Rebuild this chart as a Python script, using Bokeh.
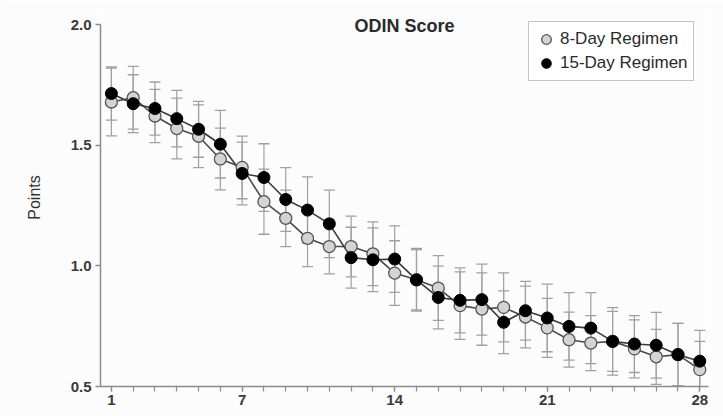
from bokeh.plotting import figure
from bokeh.models import (ColumnDataSource, Range1d, FixedTicker, PrintfTickFormatter,
                          Legend, LegendItem, Label)
from bokeh.embed import file_html
from bokeh.resources import INLINE

# ---- data ----
days = list(range(1, 29))
x_tick_labels = [1, 7, 14, 21, 28]
y_ticks = [0.5, 1.0, 1.5, 2.0]

mean_8day = [1.679, 1.697, 1.621, 1.569, 1.537, 1.443, 1.408, 1.266, 1.197, 1.114,
             1.080, 1.080, 1.050, 0.970, 0.942, 0.908, 0.835, 0.821, 0.828, 0.788,
             0.743, 0.694, 0.680, 0.687, 0.656, 0.623, 0.632, 0.570]
err_8day = [0.140, 0.130, 0.110, 0.126, 0.130, 0.128, 0.130, 0.135, 0.117, 0.117,
            0.113, 0.126, 0.132, 0.134, 0.130, 0.134, 0.140, 0.150, 0.143, 0.128,
            0.122, 0.114, 0.114, 0.140, 0.120, 0.114, 0.130, 0.117]

mean_15day = [1.714, 1.672, 1.652, 1.610, 1.566, 1.504, 1.383, 1.366, 1.275, 1.231,
              1.174, 1.034, 1.025, 1.028, 0.942, 0.869, 0.857, 0.860, 0.766, 0.814,
              0.784, 0.749, 0.742, 0.687, 0.676, 0.671, 0.632, 0.605]
err_15day = [0.110, 0.120, 0.110, 0.117, 0.116, 0.140, 0.130, 0.140, 0.132, 0.138,
             0.140, 0.126, 0.132, 0.138, 0.125, 0.130, 0.135, 0.147, 0.130, 0.122,
             0.140, 0.140, 0.147, 0.124, 0.118, 0.136, 0.130, 0.128]

FONT = "Liberation Sans"


def make_source(mean, err):
    return ColumnDataSource(dict(
        x=days, y=mean,
        lo=[m - e for m, e in zip(mean, err)],
        hi=[m + e for m, e in zip(mean, err)],
    ))


src8 = make_source(mean_8day, err_8day)
src15 = make_source(mean_15day, err_15day)

# frame: bottom at 386 px, 2.0 at 24 px; extra headroom so the title is not clipped
p = figure(width=723, height=416, output_backend="svg", toolbar_location=None,
           x_range=Range1d(0.5, 28.4), y_range=Range1d(0.5, 2.0665),
           min_border_left=100, min_border_right=15, min_border_top=8, min_border_bottom=30)

p.background_fill_color = "#fcfcfc"
p.border_fill_color = "#fcfcfc"
p.outline_line_color = None
p.xgrid.visible = False
p.ygrid.visible = False

EB = "#a0a0a0"
# error bars
for src in (src8, src15):
    p.segment(x0="x", y0="lo", x1="x", y1="hi", source=src, line_color=EB, line_width=1.2)
    p.scatter(x="x", y="hi", source=src, marker="dash", size=11, line_color=EB, line_width=1.3)
    p.scatter(x="x", y="lo", source=src, marker="dash", size=11, line_color=EB, line_width=1.3)

# lines
p.line(x="x", y="y", source=src8, line_color="#4a4a4a", line_width=1.6)
p.line(x="x", y="y", source=src15, line_color="#3a3a3a", line_width=1.6)

# markers
r8 = p.scatter(x="x", y="y", source=src8, marker="circle", size=12,
               fill_color="#d4d4d4", line_color="#555555", line_width=1.3)
r15 = p.scatter(x="x", y="y", source=src15, marker="circle", size=12,
                fill_color="#000000", line_color="#000000", line_width=1.0)

# axes
AX = "#8c8c8c"
for ax in (p.xaxis[0], p.yaxis[0]):
    ax.axis_line_color = AX
    ax.axis_line_width = 1.5
    ax.major_tick_line_color = AX
    ax.major_tick_line_width = 1.3
    ax.major_tick_out = 5
    ax.major_tick_in = 0
    ax.major_label_text_font = FONT
    ax.major_label_text_font_size = "15px"
    ax.major_label_text_font_style = "bold"
    ax.major_label_text_color = "#3a3a3a"

p.xaxis.ticker = FixedTicker(ticks=x_tick_labels, minor_ticks=days)
p.xaxis.minor_tick_line_color = AX
p.xaxis.minor_tick_line_width = 1.2
p.xaxis.minor_tick_out = 5
p.xaxis.minor_tick_in = 0
p.xaxis.major_label_standoff = 3

p.yaxis.ticker = FixedTicker(ticks=y_ticks, minor_ticks=[])
p.yaxis.bounds = (0.5, 2.0)
p.yaxis.formatter = PrintfTickFormatter(format="%.1f")
p.yaxis.minor_tick_line_color = None
p.yaxis.major_label_standoff = 4
p.yaxis.axis_label = "Points"
p.yaxis.axis_label_text_font = FONT
p.yaxis.axis_label_text_font_size = "16px"
p.yaxis.axis_label_text_font_style = "normal"
p.yaxis.axis_label_text_color = "#333333"
p.yaxis.axis_label_standoff = 25

# title inside plot
p.add_layout(Label(x=14.45, y=2.0, y_offset=-1, text="ODIN Score", text_align="center",
                   text_baseline="middle", text_font=FONT, text_font_size="18px",
                   text_font_style="bold", text_color="#2a2a2a"))

legend = Legend(items=[LegendItem(label="8-Day Regimen", renderers=[r8]),
                       LegendItem(label="15-Day Regimen", renderers=[r15])],
                location=(428, 305), orientation="vertical",
                glyph_width=24, glyph_height=24, label_height=24, spacing=0,
                padding=5, margin=0, label_standoff=2,
                label_text_font=FONT, label_text_font_size="17px", label_text_color="#2a2a2a",
                border_line_color="#8c8c8c", border_line_width=1.2,
                background_fill_color="#ffffff", background_fill_alpha=1.0)
p.add_layout(legend)

open("out.html", "w").write(file_html(p, INLINE))
